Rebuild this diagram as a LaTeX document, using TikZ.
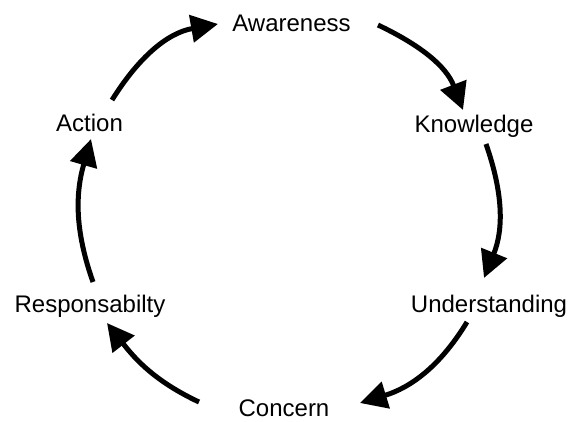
\documentclass[tikz,border=0pt]{standalone}
\usepackage{fontspec}
\setmainfont{Liberation Sans}
\usetikzlibrary{arrows.meta}
\begin{document}
\begin{tikzpicture}[x=1pt,y=1pt,
  label/.style={anchor=base,inner sep=0pt,font=\fontsize{24}{28}\selectfont},
  conn/.style={line width=5pt,-{Triangle[length=27pt,width=27pt]}}]
\useasboundingbox (0,0) rectangle (575,421);
% stage labels
\node[label] (aw) at (291.5,389) {Awareness};
\node[label] (kn) at (474,288) {Knowledge};
\node[label] (un) at (489,109) {Understanding};
\node[label] (co) at (284,4.5) {Concern};
\node[label] (re) at (90,109) {Responsabilty};
\node[label] (ac) at (89.5,289) {Action};
% connector ends
\coordinate (s1) at (112,321); \coordinate (t1) at (218,397);
\coordinate (s2) at (378,396); \coordinate (t2) at (463,311);
\coordinate (s3) at (486,277); \coordinate (t3) at (484,143);
\coordinate (s4) at (467,99);  \coordinate (t4) at (360,18);
\coordinate (s5) at (199,19);  \coordinate (t5) at (107,98);
\coordinate (s6) at (93,139);  \coordinate (t6) at (91,282);
% cycle
\draw[conn] (s1) to[out=58,in=190] (t1);
\draw[conn] (s2) to[out=-25.5,in=111] (t2);
\draw[conn] (s3) to[out=-70.8,in=68] (t3);
\draw[conn] (s4) to[out=-121.3,in=17] (t4);
\draw[conn] (s5) to[out=154.8,in=-52] (t5);
\draw[conn] (s6) to[out=109.5,in=-106] (t6);
\end{tikzpicture}
\end{document}
